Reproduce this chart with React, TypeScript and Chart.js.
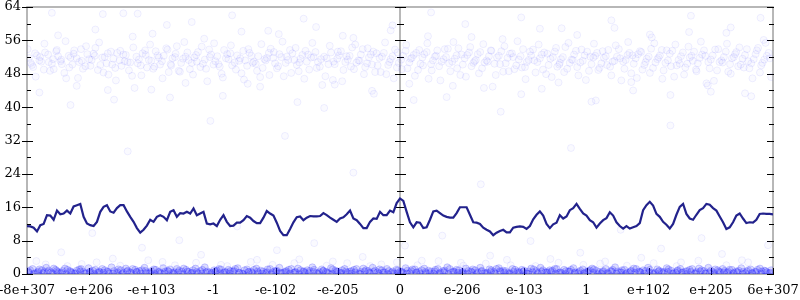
import React, { useEffect, useRef } from 'react';
import { Chart, registerables } from 'chart.js';
Chart.register(...registerables);

const xTickLabels = ['-8e+307', '-e+206', '-e+103', '-1', '-e-102', '-e-205', '0', 'e-206', 'e-103', '1', 'e+102', 'e+205', '6e+307'];
const xMin = -6;
const xMax = 6;
const yMin = 0;
const yMax = 64;
const yStep = 8;

const lineY = [
  11.5, 11.4, 11.1, 10.2, 11.7, 12.0, 14.1, 14.0, 13.0, 15.2, 14.3, 14.5, 15.2, 14.5, 16.2, 16.5, 16.8, 13.7, 12.1, 11.7,
  11.5, 12.5, 14.9, 16.1, 16.5, 15.0, 14.7, 15.8, 16.5, 16.5, 15.0, 13.7, 12.5, 11.0, 9.9, 10.6, 11.6, 13.0, 12.5, 13.7,
  14.1, 13.7, 12.9, 14.9, 15.3, 13.7, 14.6, 14.5, 14.9, 14.5, 15.7, 14.1, 14.5, 14.9, 12.1, 11.9, 12.1, 11.5, 13.0, 14.1,
  12.5, 11.5, 11.6, 12.3, 12.3, 12.9, 13.9, 13.5, 12.7, 12.2, 12.2, 13.5, 15.1, 14.5, 14.0, 12.3, 10.3, 9.3, 9.3, 10.8,
  12.4, 13.6, 13.8, 12.9, 13.5, 13.9, 13.8, 13.8, 13.9, 14.6, 14.1, 13.5, 13.0, 12.5, 13.3, 13.6, 14.3, 15.2, 13.3, 12.9,
  12.0, 11.0, 11.0, 12.5, 13.3, 13.2, 14.9, 14.1, 14.1, 15.2, 14.8, 17.0, 18.1, 17.5, 14.9, 12.4, 11.2, 12.4, 12.3, 11.0,
  11.2, 13.0, 15.0, 15.2, 14.6, 14.0, 13.7, 13.5, 13.5, 14.6, 16.0, 16.0, 16.0, 14.2, 12.4, 12.3, 12.0, 11.1, 10.6, 10.2,
  9.3, 9.9, 10.3, 10.6, 10.0, 10.0, 11.1, 11.3, 11.4, 11.3, 10.8, 11.5, 13.1, 14.2, 15.0, 14.0, 12.0, 11.0, 11.9, 12.3,
  14.1, 13.3, 13.8, 15.3, 15.8, 16.8, 15.6, 14.5, 14.0, 12.9, 12.4, 11.1, 12.1, 12.9, 13.4, 14.8, 14.0, 12.4, 11.5, 10.9,
  11.5, 10.9, 11.2, 11.5, 12.2, 15.3, 16.5, 17.3, 16.4, 14.4, 13.7, 12.5, 11.8, 10.9, 12.0, 14.2, 16.1, 16.8, 14.4, 13.3,
  13.0, 14.2, 15.3, 15.8, 16.8, 16.6, 15.8, 15.2, 13.8, 12.4, 10.8, 11.2, 12.4, 14.0, 14.5, 13.3, 12.2, 12.4, 12.3, 13.0,
  14.4, 14.5, 14.4, 14.4, 14.3,
];

const upperCloudA: [number, number][] = [
  [-5.97, 51.8], [-5.9, 49.6], [-5.84, 52.4], [-5.77, 50.9], [-5.71, 53.1], [-5.63, 48.7], [-5.58, 51.5], [-5.5, 52.2], [-5.44, 50.3], [-5.37, 46.9],
  [-5.3, 51.9], [-5.24, 53.6], [-5.16, 50.8], [-5.1, 49.2], [-5.03, 52.7], [-4.96, 51.3], [-4.9, 54.2], [-4.82, 50.1], [-4.75, 52.0], [-4.69, 47.8],
  [-4.61, 51.6], [-4.55, 53.0], [-4.48, 49.9], [-4.41, 52.5], [-4.34, 50.7], [-4.27, 44.6], [-4.2, 51.4], [-4.14, 52.9], [-4.07, 49.5], [-4.0, 51.1],
  [-3.93, 53.4], [-3.86, 50.2], [-3.8, 52.3], [-3.72, 48.4], [-3.66, 51.7], [-3.59, 54.6], [-3.52, 50.6], [-3.45, 52.1], [-3.38, 49.1], [-3.31, 51.9],
  [-3.25, 53.2], [-3.17, 50.4], [-3.1, 46.2], [-3.04, 52.6], [-2.97, 51.0], [-2.9, 49.7], [-2.83, 53.7], [-2.76, 51.5], [-2.7, 50.0], [-2.62, 52.4],
  [-2.55, 48.1], [-2.49, 51.2], [-2.42, 53.0], [-2.35, 50.9], [-2.28, 52.2], [-2.21, 49.4], [-2.14, 51.8], [-2.08, 54.0], [-2.01, 50.5], [-1.94, 52.7],
  [-1.87, 47.4], [-1.8, 51.3], [-1.73, 52.9], [-1.66, 50.1], [-1.6, 51.6], [-1.52, 53.5], [-1.46, 49.0], [-1.39, 52.0], [-1.32, 50.8], [-1.25, 45.3],
  [-1.18, 51.7], [-1.11, 53.1], [-1.05, 50.3], [-0.98, 52.4], [-0.91, 48.9], [-0.84, 51.4], [-0.77, 54.3], [-0.7, 50.7], [-0.63, 52.6], [-0.56, 49.6],
  [-0.5, 51.9], [-0.43, 53.3], [-0.36, 50.0], [-0.29, 52.1], [-0.22, 47.9], [-0.15, 51.5], [-0.08, 53.8], [-0.02, 50.6], [0.05, 52.3], [0.12, 49.3],
  [0.19, 51.8], [0.26, 53.0], [0.33, 50.4], [0.39, 52.7], [0.46, 46.8], [0.53, 51.2], [0.6, 53.6], [0.67, 50.9], [0.74, 52.0], [0.81, 48.6],
  [0.88, 51.6], [0.94, 54.1], [1.01, 50.2], [1.08, 52.5], [1.15, 49.8], [1.22, 51.3], [1.29, 53.2], [1.36, 50.7], [1.43, 52.2], [1.49, 44.9],
  [1.56, 51.9], [1.63, 53.4], [1.7, 50.5], [1.77, 52.8], [1.84, 49.1], [1.91, 51.4], [1.98, 53.9], [2.04, 50.8], [2.11, 52.4], [2.18, 48.3],
  [2.25, 51.7], [2.32, 53.1], [2.39, 50.1], [2.46, 52.0], [2.53, 49.7], [2.59, 51.5], [2.66, 54.4], [2.73, 50.6], [2.8, 52.6], [2.87, 47.6],
  [2.94, 51.1], [3.01, 53.3], [3.08, 50.3], [3.14, 52.3], [3.21, 49.4], [3.28, 51.8], [3.35, 53.7], [3.42, 50.9], [3.49, 52.1], [3.56, 46.4],
  [3.63, 51.3], [3.69, 53.0], [3.76, 50.4], [3.83, 52.7], [3.9, 49.0], [3.97, 51.6], [4.04, 54.0], [4.11, 50.7], [4.18, 52.4], [4.24, 48.8],
  [4.31, 51.2], [4.38, 53.5], [4.45, 50.0], [4.52, 52.2], [4.59, 49.5], [4.66, 51.9], [4.73, 53.3], [4.79, 50.5], [4.86, 52.6], [4.93, 45.7],
  [5.0, 51.4], [5.07, 53.8], [5.14, 50.8], [5.21, 52.0], [5.28, 48.5], [5.34, 51.7], [5.41, 53.2], [5.48, 50.2], [5.55, 52.5], [5.62, 49.3],
  [5.69, 51.5], [5.76, 54.2], [5.83, 50.6], [5.9, 52.3], [5.97, 47.2],
];

const upperCloudB: [number, number][] = [
  [-5.94, 50.6], [-5.87, 52.9], [-5.8, 51.2], [-5.73, 49.0], [-5.66, 52.6], [-5.6, 50.4], [-5.53, 53.4], [-5.46, 51.0], [-5.4, 48.2], [-5.33, 52.3],
  [-5.27, 50.2], [-5.2, 51.7], [-5.13, 53.9], [-5.06, 49.8], [-5.0, 51.5], [-4.93, 52.8], [-4.86, 48.9], [-4.79, 51.9], [-4.72, 50.5], [-4.65, 53.3],
  [-4.58, 49.4], [-4.51, 51.2], [-4.45, 52.6], [-4.38, 50.8], [-4.31, 47.5], [-4.24, 52.1], [-4.17, 50.0], [-4.1, 53.6], [-4.04, 51.3], [-3.97, 49.2],
  [-3.9, 52.4], [-3.83, 51.0], [-3.76, 54.1], [-3.69, 50.3], [-3.62, 52.0], [-3.56, 48.7], [-3.49, 51.6], [-3.42, 53.1], [-3.35, 50.6], [-3.28, 52.5],
  [-3.21, 49.6], [-3.14, 51.4], [-3.07, 53.8], [-3.0, 50.2], [-2.94, 52.2], [-2.87, 48.0], [-2.8, 51.7], [-2.73, 52.9], [-2.66, 50.7], [-2.59, 51.1],
  [-2.52, 53.5], [-2.46, 49.9], [-2.39, 52.3], [-2.32, 50.4], [-2.25, 47.2], [-2.18, 51.5], [-2.11, 53.0], [-2.04, 51.8], [-1.98, 49.3], [-1.91, 52.0],
  [-1.84, 50.6], [-1.77, 53.7], [-1.7, 51.3], [-1.63, 48.6], [-1.57, 52.5], [-1.5, 50.9], [-1.43, 51.9], [-1.36, 53.2], [-1.29, 49.7], [-1.22, 52.1],
  [-1.15, 50.3], [-1.08, 46.5], [-1.01, 51.6], [-0.95, 53.4], [-0.88, 50.8], [-0.81, 52.3], [-0.74, 49.1], [-0.67, 51.2], [-0.6, 53.9], [-0.53, 50.5],
  [-0.47, 52.6], [-0.4, 48.4], [-0.33, 51.8], [-0.26, 53.0], [-0.19, 50.1], [-0.12, 52.2], [-0.05, 49.5], [0.02, 51.4], [0.09, 53.5], [0.15, 50.7],
  [0.22, 52.5], [0.29, 48.9], [0.36, 51.9], [0.43, 53.2], [0.5, 50.3], [0.56, 52.1], [0.63, 49.8], [0.7, 51.5], [0.77, 54.0], [0.84, 50.9],
  [0.91, 52.4], [0.97, 47.7], [1.04, 51.7], [1.11, 53.1], [1.18, 50.6], [1.25, 52.7], [1.32, 49.3], [1.39, 51.2], [1.46, 53.6], [1.52, 50.4],
  [1.59, 52.3], [1.66, 48.5], [1.73, 51.8], [1.8, 52.9], [1.87, 50.0], [1.94, 52.2], [2.01, 49.6], [2.07, 51.3], [2.14, 53.8], [2.21, 50.8],
  [2.28, 52.6], [2.35, 47.9], [2.42, 51.6], [2.49, 53.3], [2.56, 50.2], [2.62, 52.0], [2.69, 49.2], [2.76, 51.4], [2.83, 53.5], [2.9, 50.7],
  [2.97, 52.4], [3.04, 48.7], [3.11, 51.9], [3.17, 53.0], [3.24, 50.5], [3.31, 52.2], [3.38, 49.7], [3.45, 51.1], [3.52, 53.9], [3.59, 50.9],
  [3.66, 52.5], [3.72, 48.1], [3.79, 51.7], [3.86, 53.4], [3.93, 50.1], [4.0, 52.1], [4.07, 49.4], [4.14, 51.5], [4.21, 53.7], [4.27, 50.6],
  [4.34, 52.8], [4.41, 47.3], [4.48, 51.3], [4.55, 53.1], [4.62, 50.4], [4.69, 52.3], [4.76, 49.0], [4.82, 51.8], [4.89, 53.6], [4.96, 50.8],
  [5.03, 52.4], [5.1, 48.8], [5.17, 51.2], [5.24, 53.3], [5.31, 50.3], [5.37, 52.0], [5.44, 49.8], [5.51, 51.6], [5.58, 53.9], [5.65, 50.5],
  [5.72, 52.7], [5.79, 48.3], [5.86, 51.4], [5.93, 53.0],
];

const upperCloudC: [number, number][] = [
  [-5.99, 53.9], [-5.92, 50.1], [-5.86, 47.3], [-5.79, 52.0], [-5.72, 55.2], [-5.65, 50.8], [-5.57, 49.1], [-5.52, 53.7], [-5.45, 51.4], [-5.38, 55.8],
  [-5.32, 49.5], [-5.25, 52.8], [-5.18, 47.0], [-5.12, 51.1], [-5.05, 54.6], [-4.98, 49.9], [-4.91, 52.3], [-4.84, 55.5], [-4.77, 48.3], [-4.7, 52.9],
  [-4.63, 50.2], [-4.57, 46.4], [-4.5, 53.5], [-4.43, 51.0], [-4.36, 48.8], [-4.29, 54.3], [-4.22, 50.5], [-4.16, 47.6], [-4.09, 52.5], [-4.02, 55.0],
  [-3.95, 49.7], [-3.88, 51.9], [-3.82, 46.9], [-3.74, 53.8], [-3.68, 50.0], [-3.61, 52.8], [-3.54, 48.5], [-3.47, 55.6], [-3.4, 51.3], [-3.33, 47.8],
  [-3.27, 50.9], [-3.19, 54.5], [-3.12, 49.2], [-3.06, 52.0], [-2.99, 55.3], [-2.92, 50.3], [-2.85, 47.1], [-2.78, 52.7], [-2.72, 54.8], [-2.64, 49.0],
  [-2.57, 51.7], [-2.51, 46.6], [-2.44, 53.9], [-2.37, 50.6], [-2.3, 48.7], [-2.23, 55.1], [-2.16, 51.2], [-2.1, 47.7], [-2.03, 53.2], [-1.96, 49.8],
  [-1.89, 55.7], [-1.82, 52.1], [-1.75, 48.2], [-1.68, 54.2], [-1.62, 50.7], [-1.54, 46.8], [-1.48, 52.6], [-1.41, 55.4], [-1.34, 49.4], [-1.27, 51.5],
  [-1.2, 47.4], [-1.13, 54.7], [-1.07, 50.9], [-1.0, 53.3], [-0.93, 46.2], [-0.86, 52.2], [-0.79, 49.7], [-0.72, 55.0], [-0.65, 51.1], [-0.58, 47.9],
  [-0.52, 54.1], [-0.45, 50.2], [-0.38, 52.9], [-0.31, 48.4], [-0.24, 55.5], [-0.17, 50.8], [-0.1, 46.9], [-0.04, 53.1], [0.03, 49.1], [0.1, 54.9],
  [0.17, 51.6], [0.24, 47.5], [0.31, 53.7], [0.37, 50.0], [0.44, 55.3], [0.51, 48.8], [0.58, 52.3], [0.65, 46.4], [0.72, 53.9], [0.79, 50.5],
  [0.86, 55.6], [0.92, 49.3], [0.99, 52.6], [1.06, 47.3], [1.13, 54.4], [1.2, 51.0], [1.27, 48.1], [1.34, 55.1], [1.41, 50.9], [1.47, 53.5],
  [1.54, 47.7], [1.61, 50.3], [1.68, 54.6], [1.75, 48.6], [1.82, 52.0], [1.89, 55.8], [1.96, 49.5], [2.02, 46.7], [2.09, 53.3], [2.16, 51.2],
  [2.23, 55.0], [2.3, 49.0], [2.37, 52.8], [2.44, 47.2], [2.51, 54.2], [2.57, 50.6], [2.64, 48.4], [2.71, 55.4], [2.78, 51.3], [2.85, 49.6],
  [2.92, 53.8], [2.99, 46.5], [3.06, 52.1], [3.12, 55.2], [3.19, 48.9], [3.26, 53.4], [3.33, 50.1], [3.4, 47.6], [3.47, 54.8], [3.54, 51.7],
  [3.61, 49.2], [3.67, 55.6], [3.74, 52.4], [3.81, 47.0], [3.88, 53.2], [3.95, 50.8], [4.02, 48.2], [4.09, 55.3], [4.16, 51.9], [4.22, 46.8],
  [4.29, 53.6], [4.36, 49.8], [4.43, 55.0], [4.5, 50.4], [4.57, 47.8], [4.64, 54.5], [4.71, 51.1], [4.77, 48.6], [4.84, 55.7], [4.91, 52.3],
  [4.98, 49.3], [5.05, 46.3], [5.12, 53.9], [5.19, 50.7], [5.26, 55.2], [5.32, 48.0], [5.39, 52.7], [5.46, 54.3], [5.53, 49.5], [5.6, 51.0],
  [5.67, 46.9], [5.74, 53.6], [5.81, 50.0], [5.88, 55.4], [5.95, 51.7],
  [-5.8, 43.5], [-5.5, 57.2], [-5.2, 45.1], [-4.9, 58.6], [-4.6, 41.8], [-4.3, 56.9], [-4.0, 44.2], [-3.75, 59.7], [-3.45, 45.8], [-3.15, 56.4],
  [-2.85, 42.7], [-2.55, 58.1], [-2.25, 44.9], [-1.95, 57.5], [-1.65, 41.2], [-1.35, 59.2], [-1.05, 45.4], [-0.75, 56.6], [-0.45, 43.9], [-0.15, 58.4],
  [0.15, 45.6], [0.45, 57.0], [0.75, 42.4], [1.05, 59.9], [1.35, 44.6], [1.65, 56.3], [1.95, 43.1], [2.25, 58.8], [2.55, 45.9], [2.85, 57.3],
  [3.15, 41.6], [3.45, 59.0], [3.75, 44.0], [4.05, 56.7], [4.35, 42.9], [4.65, 58.0], [4.95, 45.2], [5.25, 57.8], [5.55, 43.3], [5.85, 56.1],
];

const lowerCloudA: [number, number][] = [
  [-5.98, 0.6], [-5.91, 1.2], [-5.83, 0.3], [-5.76, 0.9], [-5.69, 1.5], [-5.61, 0.4], [-5.54, 1.0], [-5.47, 0.2], [-5.39, 1.3], [-5.31, 0.7],
  [-5.24, 0.1], [-5.16, 1.1], [-5.09, 0.5], [-5.01, 1.4], [-4.94, 0.8], [-4.86, 0.3], [-4.79, 1.2], [-4.71, 0.6], [-4.64, 1.6], [-4.56, 0.2],
  [-4.49, 0.9], [-4.41, 1.3], [-4.34, 0.4], [-4.26, 1.0], [-4.19, 0.7], [-4.11, 1.5], [-4.04, 0.1], [-3.96, 1.1], [-3.89, 0.5], [-3.81, 1.4],
  [-3.74, 0.8], [-3.66, 0.3], [-3.59, 1.2], [-3.51, 0.6], [-3.44, 1.0], [-3.36, 0.2], [-3.29, 1.3], [-3.21, 0.7], [-3.14, 1.6], [-3.06, 0.4],
  [-2.99, 0.9], [-2.91, 1.2], [-2.84, 0.3], [-2.76, 1.0], [-2.69, 0.6], [-2.61, 1.4], [-2.54, 0.1], [-2.46, 1.1], [-2.39, 0.5], [-2.31, 1.3],
  [-2.24, 0.8], [-2.16, 0.2], [-2.09, 1.2], [-2.01, 0.7], [-1.94, 1.5], [-1.86, 0.4], [-1.79, 1.0], [-1.71, 0.3], [-1.64, 1.3], [-1.56, 0.6],
  [-1.49, 0.9], [-1.41, 1.6], [-1.34, 0.2], [-1.26, 1.1], [-1.19, 0.5], [-1.11, 1.4], [-1.04, 0.8], [-0.96, 0.3], [-0.89, 1.2], [-0.81, 0.6],
  [-0.74, 1.0], [-0.66, 0.1], [-0.59, 1.3], [-0.51, 0.7], [-0.44, 1.5], [-0.36, 0.4], [-0.29, 0.9], [-0.21, 1.2], [-0.14, 0.3], [-0.06, 1.0],
  [0.01, 0.6], [0.09, 1.4], [0.16, 0.2], [0.24, 1.1], [0.31, 0.5], [0.39, 1.3], [0.46, 0.8], [0.54, 0.1], [0.61, 1.2], [0.69, 0.7],
  [0.76, 1.6], [0.84, 0.4], [0.91, 1.0], [0.99, 0.3], [1.06, 1.3], [1.14, 0.6], [1.21, 0.9], [1.29, 1.5], [1.36, 0.2], [1.44, 1.1],
  [1.51, 0.5], [1.59, 1.4], [1.66, 0.8], [1.74, 0.3], [1.81, 1.2], [1.89, 0.6], [1.96, 1.0], [2.04, 0.1], [2.11, 1.3], [2.19, 0.7],
  [2.26, 1.5], [2.34, 0.4], [2.41, 0.9], [2.49, 1.2], [2.56, 0.3], [2.64, 1.0], [2.71, 0.6], [2.79, 1.4], [2.86, 0.2], [2.94, 1.1],
  [3.01, 0.5], [3.09, 1.3], [3.16, 0.8], [3.24, 0.1], [3.31, 1.2], [3.39, 0.7], [3.46, 1.6], [3.54, 0.4], [3.61, 1.0], [3.69, 0.3],
  [3.76, 1.3], [3.84, 0.6], [3.91, 0.9], [3.99, 1.5], [4.06, 0.2], [4.14, 1.1], [4.21, 0.5], [4.29, 1.4], [4.36, 0.8], [4.44, 0.3],
  [4.51, 1.2], [4.59, 0.6], [4.66, 1.0], [4.74, 0.1], [4.81, 1.3], [4.89, 0.7], [4.96, 1.5], [5.04, 0.4], [5.11, 0.9], [5.19, 1.2],
  [5.26, 0.3], [5.34, 1.0], [5.41, 0.6], [5.49, 1.4], [5.56, 0.2], [5.64, 1.1], [5.71, 0.5], [5.79, 1.3], [5.86, 0.8], [5.94, 0.2],
];

const lowerCloudB: [number, number][] = [
  [-5.95, 0.9], [-5.87, 0.2], [-5.8, 1.1], [-5.72, 0.5], [-5.65, 0.8], [-5.57, 1.3], [-5.5, 0.4], [-5.43, 0.7], [-5.35, 1.0], [-5.28, 0.3],
  [-5.2, 0.8], [-5.13, 1.2], [-5.05, 0.2], [-4.98, 0.6], [-4.9, 1.0], [-4.83, 0.4], [-4.75, 0.9], [-4.68, 0.1], [-4.6, 0.7], [-4.53, 1.1],
  [-4.45, 0.3], [-4.38, 0.8], [-4.3, 1.2], [-4.23, 0.5], [-4.15, 0.9], [-4.08, 0.3], [-4.0, 0.7], [-3.93, 1.0], [-3.85, 0.2], [-3.78, 0.6],
  [-3.7, 1.1], [-3.63, 0.4], [-3.55, 0.8], [-3.48, 1.3], [-3.4, 0.5], [-3.33, 0.9], [-3.25, 0.2], [-3.18, 1.0], [-3.1, 0.6], [-3.03, 0.3],
  [-2.95, 0.8], [-2.88, 1.1], [-2.8, 0.4], [-2.73, 0.7], [-2.65, 1.2], [-2.58, 0.3], [-2.5, 0.9], [-2.43, 0.5], [-2.35, 1.0], [-2.28, 0.2],
  [-2.2, 0.6], [-2.13, 1.1], [-2.05, 0.4], [-1.98, 0.8], [-1.9, 0.2], [-1.83, 0.7], [-1.75, 1.2], [-1.68, 0.5], [-1.6, 0.9], [-1.53, 0.3],
  [-1.45, 0.7], [-1.38, 1.0], [-1.3, 0.4], [-1.23, 0.8], [-1.15, 0.2], [-1.08, 1.1], [-1.0, 0.6], [-0.93, 0.9], [-0.85, 0.3], [-0.78, 0.7],
  [-0.7, 1.2], [-0.63, 0.5], [-0.55, 0.9], [-0.48, 0.2], [-0.4, 0.8], [-0.33, 1.1], [-0.25, 0.4], [-0.18, 0.7], [-0.1, 0.2], [-0.03, 0.9],
  [0.05, 0.3], [0.12, 0.8], [0.2, 1.1], [0.27, 0.4], [0.35, 0.9], [0.42, 0.2], [0.5, 0.6], [0.57, 1.0], [0.65, 0.3], [0.72, 0.8],
  [0.8, 1.2], [0.87, 0.5], [0.95, 0.9], [1.02, 0.2], [1.1, 0.7], [1.17, 1.1], [1.25, 0.4], [1.32, 0.8], [1.4, 0.3], [1.47, 0.9],
  [1.55, 1.2], [1.62, 0.5], [1.7, 0.7], [1.77, 0.2], [1.85, 1.0], [1.92, 0.4], [2.0, 0.8], [2.07, 0.6], [2.15, 1.1], [2.22, 0.3],
  [2.3, 0.9], [2.37, 0.5], [2.45, 0.8], [2.52, 1.2], [2.6, 0.2], [2.67, 0.7], [2.75, 1.0], [2.82, 0.4], [2.9, 0.8], [2.97, 0.3],
  [3.05, 0.9], [3.12, 1.1], [3.2, 0.5], [3.27, 0.7], [3.35, 0.2], [3.42, 1.0], [3.5, 0.6], [3.57, 0.9], [3.65, 0.3], [3.72, 0.8],
  [3.8, 1.2], [3.87, 0.4], [3.95, 0.7], [4.02, 1.0], [4.1, 0.3], [4.17, 0.8], [4.25, 0.5], [4.32, 1.1], [4.4, 0.2], [4.47, 0.9],
  [4.55, 0.4], [4.62, 0.7], [4.7, 1.2], [4.77, 0.5], [4.85, 0.9], [4.92, 0.2], [5.0, 0.8], [5.07, 1.1], [5.15, 0.4], [5.22, 0.7],
  [5.3, 1.0], [5.37, 0.3], [5.45, 0.8], [5.52, 0.5], [5.6, 0.9], [5.67, 0.2], [5.75, 1.0], [5.82, 0.6], [5.9, 0.4], [5.97, 0.9],
];

const lowerCloudC: [number, number][] = [
  [-5.97, 0.3], [-5.89, 0.0], [-5.82, 0.6], [-5.74, 0.2], [-5.67, 0.5], [-5.59, 0.1], [-5.52, 0.7], [-5.44, 0.3], [-5.37, 0.0], [-5.29, 0.5],
  [-5.22, 0.2], [-5.14, 0.6], [-5.07, 0.1], [-4.99, 0.4], [-4.92, 0.0], [-4.84, 0.6], [-4.77, 0.3], [-4.69, 0.5], [-4.62, 0.1], [-4.54, 0.4],
  [-4.47, 0.0], [-4.39, 0.6], [-4.32, 0.2], [-4.24, 0.5], [-4.17, 0.1], [-4.09, 0.7], [-4.02, 0.3], [-3.94, 0.0], [-3.87, 0.5], [-3.79, 0.2],
  [-3.72, 0.6], [-3.64, 0.1], [-3.57, 0.4], [-3.49, 0.0], [-3.42, 0.6], [-3.34, 0.3], [-3.27, 0.5], [-3.19, 0.1], [-3.12, 0.4], [-3.04, 0.0],
  [-2.97, 0.6], [-2.89, 0.2], [-2.82, 0.5], [-2.74, 0.1], [-2.67, 0.7], [-2.59, 0.3], [-2.52, 0.0], [-2.44, 0.5], [-2.37, 0.2], [-2.29, 0.6],
  [-2.22, 0.1], [-2.14, 0.4], [-2.07, 0.0], [-1.99, 0.6], [-1.92, 0.3], [-1.84, 0.5], [-1.77, 0.1], [-1.69, 0.4], [-1.62, 0.0], [-1.54, 0.6],
  [-1.47, 0.2], [-1.39, 0.5], [-1.32, 0.1], [-1.24, 0.7], [-1.17, 0.3], [-1.09, 0.0], [-1.02, 0.5], [-0.94, 0.2], [-0.87, 0.6], [-0.79, 0.1],
  [-0.72, 0.4], [-0.64, 0.0], [-0.57, 0.6], [-0.49, 0.3], [-0.42, 0.5], [-0.34, 0.1], [-0.27, 0.4], [-0.19, 0.0], [-0.12, 0.6], [-0.04, 0.2],
  [0.03, 0.5], [0.11, 0.1], [0.18, 0.7], [0.26, 0.3], [0.33, 0.0], [0.41, 0.5], [0.48, 0.2], [0.56, 0.6], [0.63, 0.1], [0.71, 0.4],
  [0.78, 0.0], [0.86, 0.6], [0.93, 0.3], [1.01, 0.5], [1.08, 0.1], [1.16, 0.4], [1.23, 0.0], [1.31, 0.6], [1.38, 0.2], [1.46, 0.5],
  [1.53, 0.1], [1.61, 0.7], [1.68, 0.3], [1.76, 0.0], [1.83, 0.5], [1.91, 0.2], [1.98, 0.6], [2.06, 0.1], [2.13, 0.4], [2.21, 0.0],
  [2.28, 0.6], [2.36, 0.3], [2.43, 0.5], [2.51, 0.1], [2.58, 0.4], [2.66, 0.0], [2.73, 0.6], [2.81, 0.2], [2.88, 0.5], [2.96, 0.1],
  [3.03, 0.7], [3.11, 0.3], [3.18, 0.0], [3.26, 0.5], [3.33, 0.2], [3.41, 0.6], [3.48, 0.1], [3.56, 0.4], [3.63, 0.0], [3.71, 0.6],
  [3.78, 0.3], [3.86, 0.5], [3.93, 0.1], [4.01, 0.4], [4.08, 0.0], [4.16, 0.6], [4.23, 0.2], [4.31, 0.5], [4.38, 0.1], [4.46, 0.7],
  [4.53, 0.3], [4.61, 0.0], [4.68, 0.5], [4.76, 0.2], [4.83, 0.6], [4.91, 0.1], [4.98, 0.4], [5.06, 0.0], [5.13, 0.6], [5.21, 0.3],
  [5.28, 0.5], [5.36, 0.1], [5.43, 0.4], [5.51, 0.0], [5.58, 0.6], [5.66, 0.2], [5.73, 0.5], [5.81, 0.1], [5.88, 0.7], [5.96, 0.3],
];

const sparseCloud: [number, number][] = [
  [-5.85, 3.1], [-5.6, 62.6], [-5.45, 5.2], [-5.3, 40.5], [-5.12, 2.4], [-4.95, 9.8], [-4.78, 62.3], [-4.7, 44.1], [-4.62, 3.7], [-4.45, 62.5],
  [-4.38, 29.4], [-4.22, 62.4], [-4.15, 6.3], [-3.98, 57.6], [-3.82, 2.9], [-3.7, 42.3], [-3.55, 8.1], [-3.35, 60.4], [-3.2, 4.6], [-3.05, 36.7],
  [-2.88, 2.2], [-2.7, 62.0], [-2.62, 11.4], [-2.45, 45.6], [-2.3, 3.4], [-2.12, 58.3], [-1.98, 5.7], [-1.85, 33.1], [-1.7, 2.6], [-1.55, 61.2],
  [-1.38, 7.4], [-1.22, 39.8], [-1.08, 3.0], [-0.92, 57.1], [-0.75, 24.3], [-0.6, 4.1], [-0.42, 43.2], [-0.3, 2.3], [-0.12, 59.6], [0.08, 6.8],
  [0.22, 41.7], [0.35, 3.2], [0.5, 62.7], [0.68, 9.2], [0.85, 45.1], [0.98, 2.7], [1.15, 56.8], [1.3, 21.5], [1.45, 4.4], [1.62, 38.9],
  [1.78, 2.1], [1.95, 61.5], [2.1, 7.9], [2.28, 44.4], [2.42, 3.6], [2.6, 58.9], [2.75, 30.2], [2.9, 5.1], [3.08, 41.3], [3.22, 2.5],
  [3.4, 60.8], [3.55, 10.6], [3.72, 46.0], [3.88, 3.9], [4.02, 57.4], [4.2, 6.1], [4.35, 35.6], [4.52, 2.8], [4.68, 61.9], [4.85, 8.6],
  [5.0, 43.7], [5.18, 4.8], [5.32, 59.1], [5.5, 3.3], [5.65, 42.6], [5.8, 61.4], [5.92, 6.9],
  [-5.7, 2.3], [-5.35, 1.9], [-4.88, 2.8], [-4.5, 2.0], [-4.05, 3.3], [-3.62, 2.1], [-3.28, 2.7], [-2.78, 1.9], [-2.4, 2.9], [-2.05, 2.2],
  [-1.62, 3.5], [-1.18, 2.0], [-0.85, 2.6], [-0.48, 1.9], [-0.05, 2.8], [0.28, 2.1], [0.62, 3.1], [1.02, 2.0], [1.38, 2.5], [1.72, 3.4],
  [2.18, 1.9], [2.55, 2.7], [2.95, 2.2], [3.3, 3.0], [3.65, 2.0], [4.08, 2.6], [4.45, 1.9], [4.8, 3.2], [5.25, 2.1], [5.6, 2.8],
];

const FONT = { family: "'DejaVu Serif', serif", size: 13 };

const framePlugin = {
  id: 'gnuFrame',
  beforeDatasetsDraw(chart: any) {
    const { ctx, chartArea: a, scales } = chart;
    const x = scales.x;
    const y = scales.y;
    ctx.save();
    ctx.strokeStyle = '#a0a0a0';
    ctx.lineWidth = 1.5;
    ctx.strokeRect(a.left, a.top, a.right - a.left, a.bottom - a.top);
    const x0 = x.getPixelForValue(0);
    ctx.beginPath();
    ctx.moveTo(x0, a.top);
    ctx.lineTo(x0, a.bottom);
    ctx.stroke();

    ctx.strokeStyle = '#000';
    ctx.lineWidth = 1;
    const seg = (x1: number, y1: number, x2: number, y2: number) => {
      ctx.beginPath();
      ctx.moveTo(x1, y1);
      ctx.lineTo(x2, y2);
      ctx.stroke();
    };
    y.ticks.forEach((t: any) => {
      const py = Math.round(y.getPixelForValue(t.value)) + 0.5;
      seg(a.left - 5, py, a.left + 6, py);
      seg(x0 - 5, py, x0 + 6, py);
      seg(a.right - 6, py, a.right + 1, py);
      const mv = t.value + yStep / 2;
      if (mv < yMax) {
        const pm = Math.round(y.getPixelForValue(mv)) + 0.5;
        seg(a.left, pm, a.left + 4, pm);
        seg(x0 - 3, pm, x0 + 4, pm);
        seg(a.right - 4, pm, a.right + 1, pm);
      }
    });
    x.ticks.forEach((t: any) => {
      const px = Math.round(x.getPixelForValue(t.value)) + 0.5;
      seg(px, a.bottom + 1, px, a.bottom - 6);
    });
    ctx.restore();
  },
};

const cloud = (pts: [number, number][], fill: string, stroke: string) => ({
  type: 'scatter' as const,
  data: pts.map(([x, y]) => ({ x, y })),
  pointRadius: 3.5,
  pointHoverRadius: 3.5,
  borderWidth: 1,
  showLine: false,
  clip: 0,
  backgroundColor: fill,
  borderColor: stroke,
});

export default function App() {
  const ref = useRef<HTMLCanvasElement>(null);
  useEffect(() => {
    document.body.style.margin = '0';
    const faintFill = 'rgba(30,30,255,0.025)';
    const faintStroke = 'rgba(30,30,255,0.065)';
    const lowFill = 'rgba(30,30,255,0.15)';
    const lowStroke = 'rgba(30,30,255,0.2)';
    const chart = new Chart(ref.current!, {
      type: 'scatter',
      data: {
        datasets: [
          {
            type: 'line',
            data: lineY.map((v, i) => ({ x: xMin + ((xMax - xMin) * i) / (lineY.length - 1), y: v })),
            borderColor: '#22228c',
            borderWidth: 2.2,
            pointRadius: 0,
            tension: 0,
            fill: false,
            clip: 0,
          } as any,
          cloud(sparseCloud, faintFill, faintStroke),
          cloud(upperCloudA, faintFill, faintStroke),
          cloud(upperCloudB, faintFill, faintStroke),
          cloud(upperCloudC, faintFill, faintStroke),
          cloud(lowerCloudA, lowFill, lowStroke),
          cloud(lowerCloudB, lowFill, lowStroke),
          cloud(lowerCloudC, lowFill, lowStroke),
        ],
      },
      options: {
        animation: false,
        responsive: false,
        devicePixelRatio: 1,
        layout: { autoPadding: false, padding: { top: 7, right: 27, left: 0, bottom: 0 } },
        plugins: { legend: { display: false }, tooltip: { enabled: false } },
        events: [],
        scales: {
          x: {
            type: 'linear',
            min: xMin,
            max: xMax,
            grid: { display: false, drawTicks: false },
            border: { display: false },
            ticks: {
              stepSize: 1,
              autoSkip: false,
              maxRotation: 0,
              padding: 9,
              color: '#000',
              font: FONT,
              callback: (v: any) => xTickLabels[Math.round(Number(v) - xMin)] ?? '',
            },
            afterFit: (s: any) => {
              s.height = 26;
              s.paddingLeft = 0;
              s.paddingRight = 0;
            },
          },
          y: {
            type: 'linear',
            min: yMin,
            max: yMax,
            grid: { display: false, drawTicks: false },
            border: { display: false },
            ticks: { stepSize: yStep, padding: 6, color: '#000', font: FONT },
            afterFit: (s: any) => {
              s.width = 27;
              s.paddingTop = 0;
              s.paddingBottom = 0;
            },
          },
        },
      },
      plugins: [framePlugin],
    });
    return () => chart.destroy();
  }, []);
  return (
    <div style={{ width: 800, height: 300 }}>
      <canvas ref={ref} width={800} height={300} style={{ display: 'block' }} />
    </div>
  );
}
